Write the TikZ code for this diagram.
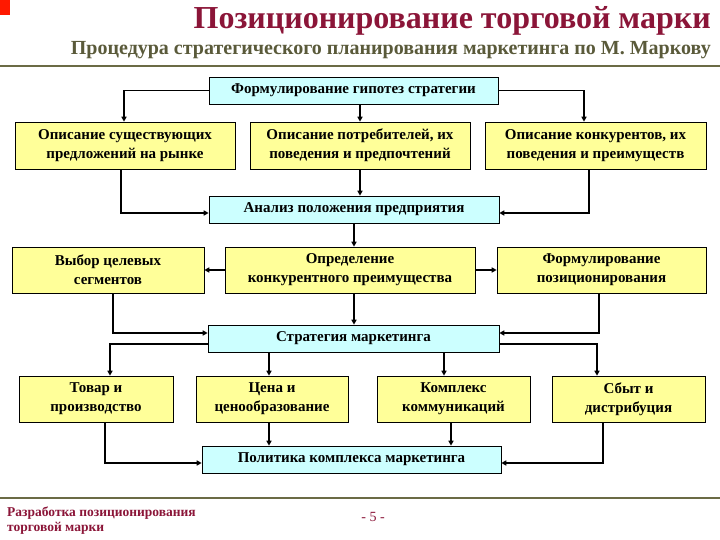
\documentclass[tikz,border=0pt]{standalone}
\usepackage{fontspec}
\setmainfont{Liberation Serif}
\usetikzlibrary{arrows.meta}
\definecolor{ttl}{HTML}{8B1538}
\definecolor{sub}{HTML}{5A5A3A}
\definecolor{rule}{HTML}{6B6B45}
\definecolor{cy}{HTML}{CCFFFF}
\definecolor{ye}{HTML}{FFFF99}
\begin{document}
\begin{tikzpicture}[x=1pt,y=-1pt,
  bx/.style={draw=black,line width=0.6pt,inner sep=0pt,align=center,font=\fontsize{15}{19}\bfseries\selectfont},
  cb/.style={bx,fill=cy},
  yb/.style={bx,fill=ye},
  ar/.style={line width=1.6pt,-{Triangle[length=5pt,width=5pt]}},
  ln/.style={line width=1.6pt}]
\useasboundingbox (0,0) rectangle (720,540);
\fill[white] (0,0) rectangle (720,540);
\fill[red!80!orange] (0,0) rectangle (10,15);
\node[anchor=east,font=\fontsize{32}{34}\bfseries\selectfont,text=ttl,inner sep=0pt] (title) at (711,21) {Позиционирование торговой марки};
\node[anchor=east,font=\fontsize{20}{22}\bfseries\selectfont,text=sub,inner sep=0pt] (subt) at (711,50) {Процедура стратегического планирования маркетинга по М. Маркову};
\draw[rule,line width=2pt] (0,66) -- (720,66);
\draw[rule,line width=2pt] (0,498) -- (720,498);
\node[anchor=north west,align=left,font=\fontsize{13.5}{15}\bfseries\selectfont,text=ttl,inner sep=0pt] (foot) at (7,507) {Разработка позиционирования\\торговой марки};
\node[font=\fontsize{14}{16}\selectfont,text=ttl,inner sep=0pt] (pg) at (373,517) {- 5 -};

\node[cb,minimum width=289,minimum height=27] (f1) at (353.5,90.5) {Формулирование гипотез стратегии};
\node[yb,minimum width=220,minimum height=47] (a) at (125,145.5) {Описание существующих\\предложений на рынке};
\node[yb,minimum width=220,minimum height=47] (b) at (360,145.5) {Описание потребителей, их\\поведения и предпочтений};
\node[yb,minimum width=221,minimum height=47] (c) at (595.5,145.5) {Описание конкурентов, их\\поведения и преимуществ};
\node[cb,minimum width=290,minimum height=27] (an) at (354,209.5) {Анализ положения предприятия};
\node[yb,minimum width=192,minimum height=46] (v) at (108,270) {Выбор целевых\\сегментов};
\node[yb,minimum width=250,minimum height=46] (o) at (350,270) {Определение\\конкурентного преимущества};
\node[yb,minimum width=209,minimum height=46] (fp) at (601.5,270) {Формулирование\\позиционирования};
\node[cb,minimum width=291,minimum height=27] (st) at (353.5,338.5) {Стратегия маркетинга};
\node[yb,minimum width=154,minimum height=46] (t) at (96,399) {Товар и\\производство};
\node[yb,minimum width=152,minimum height=46] (ts) at (272,399) {Цена и\\ценообразование};
\node[yb,minimum width=153,minimum height=46] (k) at (453.5,399) {Комплекс\\коммуникаций};
\node[yb,minimum width=153,minimum height=46] (sb) at (628.5,399) {Сбыт и\\дистрибуция};
\node[cb,minimum width=299,minimum height=27] (pol) at (351.5,459.5) {Политика комплекса маркетинга};

\draw[ar] (f1.west) -| (a.north-|124,0);
\draw[ar] (f1.east) -| (c.north-|584,0);
\draw[ar] (f1.south-|b.north) -- (b.north);
\draw[ar] (a.south-|121,0) |- (an.west|-0,213);
\draw[ar] (c.south-|589,0) |- (an.east|-0,213);
\draw[ar] (b.south) -- (an.north-|b.south);
\draw[ar] (an.south-|354,0) -- (o.north-|354,0);
\draw[ar] (o.west) -- (v.east);
\draw[ar] (o.east) -- (fp.east-|fp.west);
\draw[ar] (o.south-|354,0) -- (st.north-|354,0);
\draw[ar] (v.south-|113,0) |- (st.west|-0,333);
\draw[ar] (fp.south-|599,0) |- (st.east|-0,333);
\draw[ar] (st.west|-0,344) -| (t.north-|110,0);
\draw[ar] (st.east|-0,344) -| (sb.north-|597,0);
\draw[ar] (st.south-|269,0) -- (ts.north-|269,0);
\draw[ar] (st.south-|444,0) -- (k.north-|444,0);
\draw[ar] (ts.south-|269,0) -- (pol.north-|269,0);
\draw[ar] (k.south-|451,0) -- (pol.north-|451,0);
\draw[ar] (t.south-|105,0) |- (pol.west|-0,463);
\draw[ar] (sb.south-|603,0) |- (pol.east|-0,463);
\end{tikzpicture}
\end{document}
